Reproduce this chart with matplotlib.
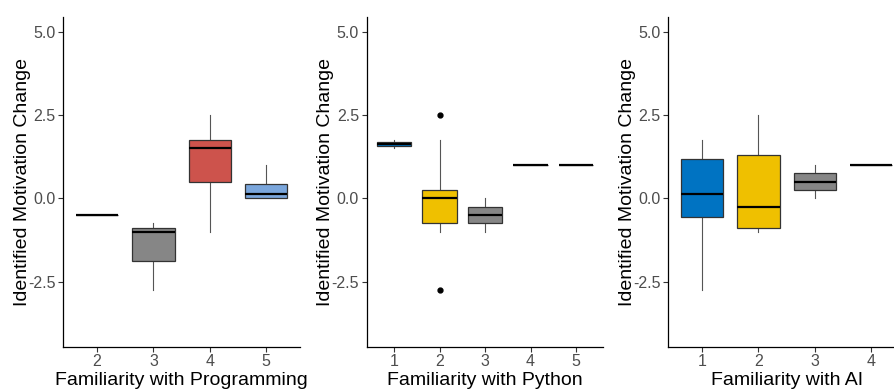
import matplotlib
matplotlib.use("Agg")
import matplotlib.pyplot as plt

plt.rcParams['font.family'] = ['Liberation Sans', 'DejaVu Sans']

# ---- data ----
prog_levels = ["2", "3", "4", "5"]
prog_q1 = [-0.5, -1.875, 0.5, 0.0]
prog_med = [-0.5, -1.0, 1.5, 0.125]
prog_q3 = [-0.5, -0.875, 1.75, 0.4375]
prog_lo = [-0.5, -2.75, -1.0, 0.0]
prog_hi = [-0.5, -0.75, 2.5, 1.0]
prog_fliers = [[], [], [], []]
prog_colors = ["#EFC000", "#868686", "#CD534C", "#7AA6DC"]

py_levels = ["1", "2", "3", "4", "5"]
py_q1 = [1.5625, -0.75, -0.75, 1.0, 1.0]
py_med = [1.625, 0.0, -0.5, 1.0, 1.0]
py_q3 = [1.6875, 0.25, -0.25, 1.0, 1.0]
py_lo = [1.5, -1.0, -1.0, 1.0, 1.0]
py_hi = [1.75, 1.75, 0.0, 1.0, 1.0]
py_fliers = [[], [2.5, -2.75], [], [], []]
py_colors = ["#0073C2", "#EFC000", "#868686", "#CD534C", "#7AA6DC"]

ai_levels = ["1", "2", "3", "4"]
ai_q1 = [-0.5625, -0.875, 0.25, 1.0]
ai_med = [0.125, -0.25, 0.5, 1.0]
ai_q3 = [1.1875, 1.3125, 0.75, 1.0]
ai_lo = [-2.75, -1.0, 0.0, 1.0]
ai_hi = [1.75, 2.5, 1.0, 1.0]
ai_fliers = [[], [], [], []]
ai_colors = ["#0073C2", "#EFC000", "#868686", "#CD534C"]

yticks = [-2.5, 0.0, 2.5, 5.0]
ylabel = "Identified Motivation Change"

panels = [
    ("Familiarity with Programming", prog_levels, prog_q1, prog_med, prog_q3, prog_lo, prog_hi, prog_fliers, prog_colors),
    ("Familiarity with Python", py_levels, py_q1, py_med, py_q3, py_lo, py_hi, py_fliers, py_colors),
    ("Familiarity with AI", ai_levels, ai_q1, ai_med, ai_q3, ai_lo, ai_hi, ai_fliers, ai_colors),
]

W, H = 894, 389
fig = plt.figure(figsize=(W / 100, H / 100), dpi=100)
lefts = [63.3, 366.7, 668.3]
width = 236.7
bottom_px = 389 - 346.7
height_px = 330.0

for (xlab, levels, q1, med, q3, lo, hi, fl, cols), lp in zip(panels, lefts):
    ax = fig.add_axes([lp / W, bottom_px / H, width / W, height_px / H])
    stats = []
    for i in range(len(levels)):
        stats.append(dict(q1=q1[i], med=med[i], q3=q3[i], whislo=lo[i], whishi=hi[i], fliers=fl[i]))
    pos = list(range(1, len(levels) + 1))
    bp = ax.bxp(stats, positions=pos, widths=0.75, patch_artist=True, showcaps=False,
                boxprops=dict(edgecolor="#333333", linewidth=0.9),
                medianprops=dict(color="black", linewidth=1.6, solid_capstyle="butt"),
                whiskerprops=dict(color="#555555", linewidth=0.8),
                flierprops=dict(marker="o", markerfacecolor="black", markeredgecolor="black", markersize=3.5))
    for patch, c in zip(bp["boxes"], cols):
        patch.set_facecolor(c)
    for w in bp["whiskers"]:
        w.set_zorder(1)
    ax.set_xlim(0.4, len(levels) + 0.6)
    ax.set_ylim(-4.45, 5.45)
    ax.set_xticks(pos)
    ax.set_xticklabels(levels)
    ax.set_yticks(yticks)
    ax.set_yticklabels([f"{v:.1f}" for v in yticks])
    for s in ["top", "right"]:
        ax.spines[s].set_visible(False)
    for s in ["left", "bottom"]:
        ax.spines[s].set_color("black")
        ax.spines[s].set_linewidth(0.9)
    ax.tick_params(axis="both", colors="#333333", labelcolor="#4D4D4D", labelsize=11.5, length=3.5, width=0.8, pad=2)
    ax.set_xlabel(xlab, fontsize=14, color="black", labelpad=2)
    ax.set_ylabel(ylabel, fontsize=14, color="black", labelpad=-2)

fig.savefig("out.png", dpi=100)
